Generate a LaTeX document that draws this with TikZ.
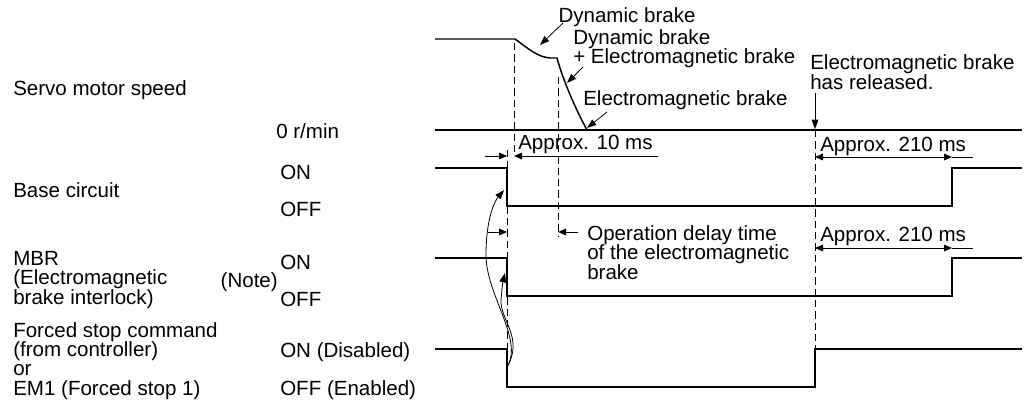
\documentclass[tikz,border=0pt]{standalone}
\usepackage{fontspec}
\setmainfont{Liberation Sans}
\usetikzlibrary{arrows.meta}
\newcommand\labfont{\fontsize{15.4}{14.6}\selectfont}
\begin{document}
\begin{tikzpicture}[x=0.75pt,y=-0.75pt,
  sig/.style={line width=1.1pt},
  thinline/.style={line width=0.6pt},
  dashline/.style={line width=0.6pt, dash pattern=on 5.5pt off 3pt},
  dimtip/.style={-{Triangle[length=6pt,width=5pt]}, line width=0.6pt},
  dimboth/.style={{Triangle[length=6pt,width=5pt]}-{Triangle[length=6pt,width=5pt]}, line width=0.6pt},
  ann/.style={-{Triangle[length=7pt,width=5pt]}, line width=0.6pt},
  lbl/.style={inner sep=0pt, anchor=base west, font=\labfont, align=left},
]
\useasboundingbox (0,0) rectangle (1027,412);

% ---------- left labels (multi-line nodes: base = last line) ----------
\node[lbl] (tSpeed) at (13,95) {Servo motor speed};
\node[lbl] (tZero) at (276,138) {0 r/min};
\node[lbl] (tBase) at (13,197) {Base circuit};
\node[lbl] (tBon) at (280,179) {ON};
\node[lbl] (tBoff) at (280,216) {OFF};
\node[lbl] (tMBR) at (13,304.2) {MBR\\(Electromagnetic\\brake interlock)};
\node[lbl, anchor=base east] (tNote) at (278,287) {(Note)};
\node[lbl] (tMon) at (280,269) {ON};
\node[lbl] (tMoff) at (280,306) {OFF};
\node[lbl] (tFS) at (13,395.4) {Forced stop command\\(from controller)\\or\\EM1 (Forced stop 1)};
\node[lbl] (tFon) at (280,357) {ON (Disabled)};
\node[lbl] (tFoff) at (280,395) {OFF (Enabled)};

% ---------- top annotations ----------
\node[lbl, anchor=base] (tDB1) at (627,22) {Dynamic brake};
\node[lbl] (tDB2) at (573,63.5) {Dynamic brake\\+ Electromagnetic brake};
\node[lbl] (tEB) at (583,105) {Electromagnetic brake};
\node[lbl] (tRel) at (810,89) {Electromagnetic brake\\has released.};

% ---------- coordinates ----------
\coordinate (spA) at (435,39);
\coordinate (spB) at (515,39);
\coordinate (spC) at (550,58);
\coordinate (spD) at (557,58);
\coordinate (spE) at (587,130);
\coordinate (z0) at (435,130);
\coordinate (z1) at (1022,130);

\coordinate (b0) at (435,168);
\coordinate (bF) at (507,168);
\coordinate (bL) at (507,206);
\coordinate (bR) at (952,206);
\coordinate (bU) at (952,168);
\coordinate (b1) at (1022,168);

\coordinate (m0) at (435,258);
\coordinate (mF) at (507,258);
\coordinate (mL) at (507,296);
\coordinate (mR) at (952,296);
\coordinate (mU) at (952,258);
\coordinate (m1) at (1022,258);

\coordinate (f0) at (435,349);
\coordinate (fF) at (507,349);
\coordinate (fL) at (507,387);
\coordinate (fR) at (815,387);
\coordinate (fU) at (815,349);
\coordinate (f1) at (1022,349);
\coordinate (fsE) at (507,367);

% ---------- dashed guides ----------
\draw[dashline] (514,43) -- (514,156);
\draw[dashline] (558,77) -- (558,236);
\draw[dashline] (507,150) -- (fF);
\draw[dashline] (815,130) -- (fU);

% ---------- signals ----------
\draw[sig] (spA) -- (spB) .. controls (530,50) and (538,57) .. (spC) -- (spD)
  .. controls (563,80) and (575,108) .. (spE);
\draw[sig] (z0) -- (z1);
\draw[sig] (b0) -- (bF) -- (bL) -- (bR) -- (bU) -- (b1);
\draw[sig] (m0) -- (mF) -- (mL) -- (mR) -- (mU) -- (m1);
\draw[sig] (f0) -- (fF) -- (fL) -- (fR) -- (fU) -- (f1);

% ---------- dimensions ----------
\draw[dimtip] (485,156) -- (507,156);
\draw[dimtip] (658,156) -- (514,156);
\node[lbl] (t10) at (518,149) {Approx. 10 ms};

\draw[dimboth] (815,157) -- (952,157);
\draw[thinline] (952,157) -- (973,157);
\node[lbl] (t210a) at (820,151) {Approx. 210 ms};

\draw[dimtip] (488,232) -- (507,232);
\draw[dimtip] (578,232) -- (558,232);
\node[lbl] (tOp) at (587,279) {Operation delay time\\of the electromagnetic\\brake};

\draw[dimboth] (815,248) -- (952,248);
\draw[thinline] (952,248) -- (973,248);
\node[lbl] (t210b) at (820,241) {Approx. 210 ms};

% ---------- annotation arrows ----------
\draw[ann] (563,23) -- (540,45);
\draw[ann] (583,67) -- (567,83);
\draw[ann] (607,112) -- (587,128);
\draw[ann] (815,93) -- (815,129);

% ---------- cause arrows ----------
\draw[ann] (fsE) .. controls (524,340) and (486,295) .. (486,255)
  .. controls (486,220) and (494,202) .. (504,190);
\draw[ann] (fsE) .. controls (524,338) and (500,320) .. (501,300)
  .. controls (502,288) and (503,281) .. (505,273);
\end{tikzpicture}
\end{document}
